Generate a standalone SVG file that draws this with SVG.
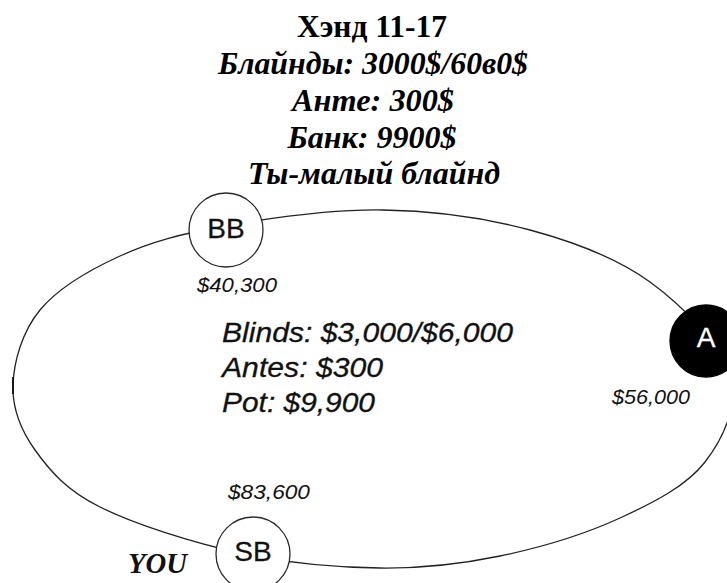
<svg xmlns="http://www.w3.org/2000/svg" width="727" height="583" viewBox="0 0 727 583">
<style>
.title{font-family:"Liberation Serif","Times New Roman",serif;font-weight:bold;font-size:32px;fill:#000;text-anchor:middle}
.sub{font-style:italic}
.seat{fill:#fff;stroke:#2a2a2a;stroke-width:1.3}
.seatA{fill:#000;stroke:#000;stroke-width:1.3}
.lbl{font-family:"Liberation Sans",Arial,sans-serif;font-size:28px;text-anchor:middle;fill:#111;stroke:#111;stroke-width:0.3}
.stack{font-family:"Liberation Sans",Arial,sans-serif;font-style:italic;font-size:21px;fill:#111}
.info{font-family:"Liberation Sans",Arial,sans-serif;font-style:italic;font-size:27px;fill:#111;stroke:#111;stroke-width:0.3}
.you{font-family:"Liberation Serif","Times New Roman",serif;font-weight:bold;font-style:italic;font-size:29px;fill:#111}
.table{fill:none;stroke:#222;stroke-width:1.3}
</style>
<rect width="727" height="583" fill="#fff"/>
<g id="title">
<text class="title" x="372" y="37" textLength="150" lengthAdjust="spacingAndGlyphs">Хэнд 11-17</text>
<text class="title sub" x="373" y="74" textLength="310" lengthAdjust="spacingAndGlyphs">Блайнды: 3000$/60в0$</text>
<text class="title sub" x="373" y="111" textLength="162" lengthAdjust="spacingAndGlyphs">Анте: 300$</text>
<text class="title sub" x="372" y="148" textLength="169" lengthAdjust="spacingAndGlyphs">Банк: 9900$</text>
<text class="title sub" x="374" y="184" textLength="252" lengthAdjust="spacingAndGlyphs">Ты-малый блайнд</text>
</g>
<g id="connectors">
<path class="table" d="M13,385 C13.8,361.7 22.2,331.5 40,310 C57.8,288.5 89.2,270 120,256 C150.8,242 181.2,233.7 225,226 C268.8,218.3 332.2,209.3 383,210 C433.8,210.7 485.5,218 530,230 C574.5,242 616.7,257.8 650,282 C683.3,306.2 720.8,345 730,375 C739.2,405 723.3,438.2 705,462 C686.7,485.8 654.2,502.3 620,518 C585.8,533.7 540,547.7 500,556 C460,564.3 423.3,568.5 380,568 C336.7,567.5 286.7,563.2 240,553 C193.3,542.8 134.2,524.2 100,507 C65.8,489.8 49.5,470.3 35,450 C20.5,429.7 12.2,408.3 13,385 Z"/>
<line x1="13" y1="377" x2="13" y2="394" stroke="#111" stroke-width="1.8"/>
</g>
<g id="node-BB">
<circle class="seat" cx="226" cy="230" r="37"/>
<text class="lbl" x="226" y="238">BB</text>
<text class="stack" x="197" y="292" textLength="80" lengthAdjust="spacingAndGlyphs">$40,300</text>
</g>
<g id="node-A">
<circle class="seatA" cx="706" cy="341" r="36"/>
<text class="lbl" x="706" y="347" style="fill:#fff;stroke:#fff">A</text>
<text class="stack" x="612" y="404" textLength="78" lengthAdjust="spacingAndGlyphs">$56,000</text>
</g>
<g id="node-SB">
<circle class="seat" cx="253" cy="554" r="37"/>
<text class="lbl" x="253" y="561">SB</text>
<text class="stack" x="228" y="499" textLength="82" lengthAdjust="spacingAndGlyphs">$83,600</text>
<text class="you" x="128" y="573" textLength="59" lengthAdjust="spacingAndGlyphs">YOU</text>
</g>
<g id="info">
<text class="info" x="222" y="342" textLength="291" lengthAdjust="spacingAndGlyphs">Blinds: $3,000/$6,000</text>
<text class="info" x="222" y="377" textLength="161" lengthAdjust="spacingAndGlyphs">Antes: $300</text>
<text class="info" x="222" y="412" textLength="153" lengthAdjust="spacingAndGlyphs">Pot: $9,900</text>
</g>
</svg>
